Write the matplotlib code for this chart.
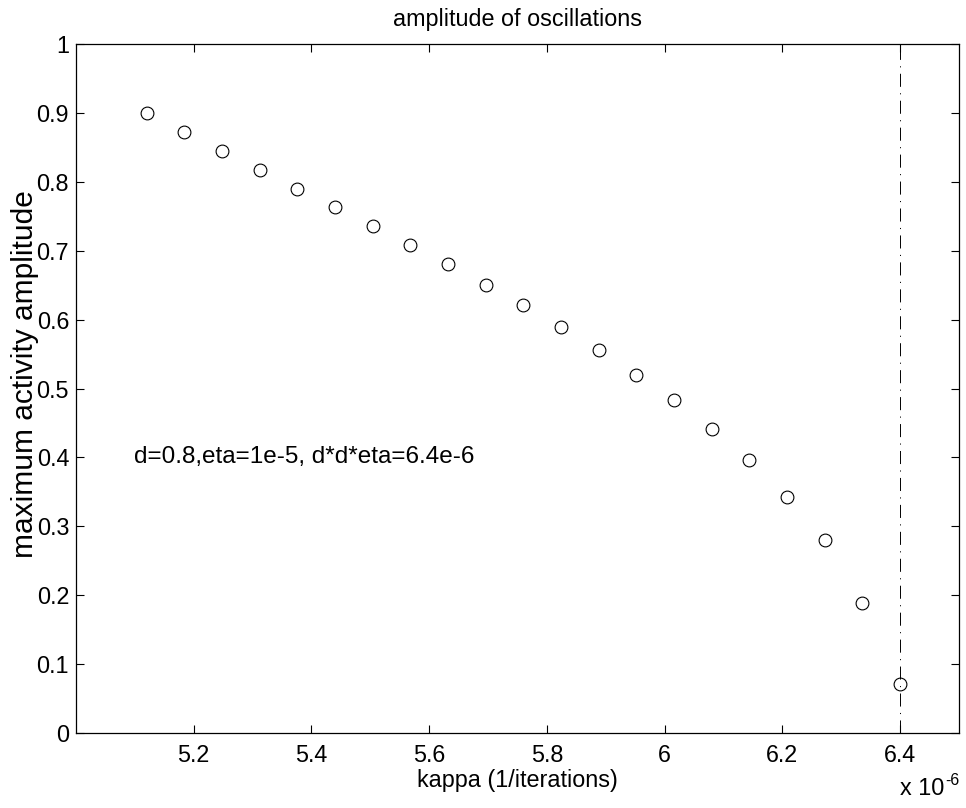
import matplotlib
matplotlib.use("Agg")
import matplotlib.pyplot as plt
from matplotlib.ticker import FuncFormatter

plt.rcParams['font.family'] = ['Liberation Sans', 'DejaVu Sans']
plt.rcParams['lines.scale_dashes'] = False

# kappa values (units of 1e-6 per iteration) and the measured amplitude
kappa = [5.120, 5.184, 5.248, 5.312, 5.376, 5.440, 5.504, 5.568, 5.632, 5.696,
         5.760, 5.824, 5.888, 5.952, 6.016, 6.080, 6.144, 6.208, 6.272, 6.336,
         6.400]
amplitude = [0.900, 0.872, 0.844, 0.817, 0.790, 0.763, 0.736, 0.708, 0.680,
             0.650, 0.621, 0.589, 0.556, 0.520, 0.483, 0.441, 0.396, 0.343,
             0.280, 0.189, 0.071]
critical_kappa = 6.4  # d*d*eta

x_ticks = [5.2, 5.4, 5.6, 5.8, 6.0, 6.2, 6.4]
y_ticks = [0, 0.1, 0.2, 0.3, 0.4, 0.5, 0.6, 0.7, 0.8, 0.9, 1.0]

FS = 16.8

W, H = 966, 808
fig = plt.figure(figsize=(W / 100, H / 100), dpi=100)
L, R, B, T = 76, 959, 733, 44
ax = fig.add_axes([L / W, 1 - B / H, (R - L) / W, (B - T) / H])

ax.plot(kappa, amplitude, linestyle='none', marker='o', markersize=9.2,
        markerfacecolor='none', markeredgecolor='black', markeredgewidth=0.8)
ax.plot([critical_kappa, critical_kappa], [0, 1], color='black', linewidth=0.7,
        linestyle=(0, (9.4, 4.6, 0.8, 4.6)))

ax.set_xlim(5.0, 6.5)
ax.set_ylim(0, 1)
ax.set_xticks(x_ticks)
ax.set_yticks(y_ticks)
ax.xaxis.set_major_formatter(FuncFormatter(lambda v, p: f"{v:g}"))
ax.yaxis.set_major_formatter(FuncFormatter(lambda v, p: f"{v:g}"))

for s in ax.spines.values():
    s.set_linewidth(0.9)
ax.tick_params(direction='in', length=5.8, width=0.8, top=True, right=True,
               labelsize=FS, color='black')
ax.tick_params(axis='x', pad=8)
ax.tick_params(axis='y', pad=5)

ax.set_title('amplitude of oscillations', fontsize=FS, pad=13)
ax.set_xlabel('kappa (1/iterations)', fontsize=FS, labelpad=1)
ax.set_ylabel('maximum activity amplitude', fontsize=21.5)
ax.yaxis.label.set_va('center')
ax.yaxis.set_label_coords(-51 / (R - L), (B - 374) / (B - T))

ax.text(5.098, 0.4, 'd=0.8,eta=1e-5, d*d*eta=6.4e-6', fontsize=17.5,
        ha='left', va='center')

# exponent for the x axis scale
fig.text(900 / W, 1 - 795 / H, 'x 10', fontsize=FS, ha='left', va='baseline')
fig.text(945 / W, 1 - 785 / H, '-6', fontsize=11.5, ha='left', va='baseline')

fig.savefig('out.png', dpi=100, facecolor='white')
